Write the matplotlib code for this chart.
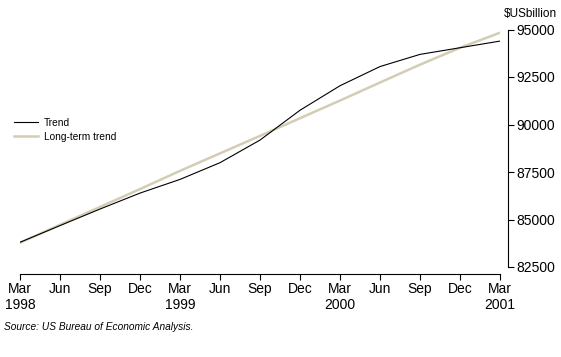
import matplotlib
matplotlib.use("Agg")
import matplotlib.pyplot as plt

plt.rcParams['font.family'] = ['Liberation Sans', 'DejaVu Sans']

quarters = ["Mar\n1998", "Jun", "Sep", "Dec", "Mar\n1999", "Jun", "Sep", "Dec",
            "Mar\n2000", "Jun", "Sep", "Dec", "Mar\n2001"]
trend = [83800, 84680, 85550, 86390, 87110, 87990, 89180, 90750,
         92040, 93050, 93690, 94040, 94390]
long_term = [83780, 84720, 85660, 86600, 87560, 88480, 89400, 90330,
             91260, 92210, 93150, 94040, 94830]
yticks = [82500, 85000, 87500, 90000, 92500, 95000]

fig = plt.figure(figsize=(5.61, 3.57), dpi=100)
ax = fig.add_axes([20 / 561, 1 - 267 / 357, 480 / 561, (267 - 29.5) / 357])

x = list(range(len(quarters)))
ax.plot(x, long_term, color='#d3cdb4', lw=1.8, label='Long-term trend', zorder=2)
ax.plot(x, trend, color='black', lw=0.8, label='Trend', zorder=3)

ax.set_xlim(0, len(quarters) - 1)
ax.set_ylim(82500, 95000)
ax.set_xticks(x)
ax.set_xticklabels(quarters, fontsize=8, linespacing=1.35)
ax.set_yticks(yticks)
ax.set_yticklabels([str(v) for v in yticks], fontsize=8)

ax.yaxis.tick_right()
ax.spines['left'].set_visible(False)
ax.spines['top'].set_visible(False)
ax.spines['right'].set_position(('outward', 6))
ax.spines['bottom'].set_position(('outward', 5))
for s in ('right', 'bottom'):
    ax.spines[s].set_linewidth(0.8)
ax.tick_params(axis='both', direction='out', length=4, width=0.8, pad=1.5)

handles, labels = ax.get_legend_handles_labels()
leg = ax.legend(handles[::-1], labels[::-1], loc='upper left',
                bbox_to_anchor=(-0.02, 0.645), frameon=False, fontsize=7.3,
                handlelength=2.3, handletextpad=0.6, labelspacing=0.4,
                borderaxespad=0)

fig.text(530 / 561, 1 - 14 / 357, '$USbillion', fontsize=8.5, ha='center', va='center')
fig.text(4 / 561, 1 - 327 / 357, 'Source: US Bureau of Economic Analysis.',
         fontsize=7.3, style='italic', ha='left', va='center')

fig.savefig('out.png', dpi=100)
